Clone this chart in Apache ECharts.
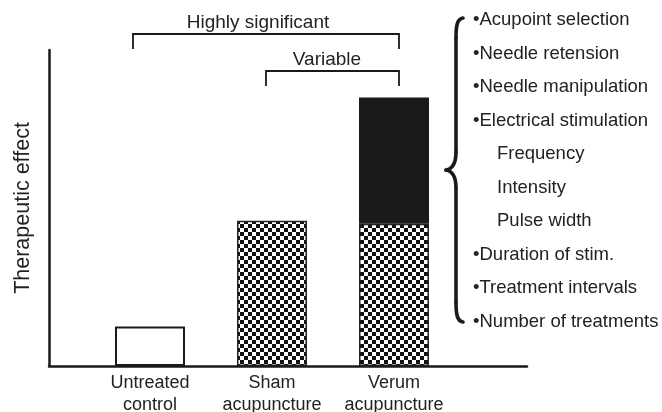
<!DOCTYPE html>
<html>
<head>
<meta charset="utf-8">
<script src="https://cdn.jsdelivr.net/npm/echarts@6/dist/echarts.min.js"></script>
<style>html,body{margin:0;padding:0;background:#fff;}#c{width:662px;height:412px;}</style>
</head>
<body>
<div id="c"></div>
<script>
const categories = ['Untreated\ncontrol', 'Sham\nacupuncture', 'Verum\nacupuncture'];
const baseEffect = [12.5, 46, 45];
const specificEffect = [null, null, 40];
const yAxisName = 'Therapeutic effect';
const bracketLabels = ['Highly significant', 'Variable'];
const factorItems = ['•Acupoint selection', '•Needle retension', '•Needle manipulation', '•Electrical stimulation', 'Frequency', 'Intensity', 'Pulse width', '•Duration of stim.', '•Treatment intervals', '•Number of treatments'];
const subItem = [false, false, false, false, true, true, true, false, false, false];

const FONT = 'Liberation Sans, Arial, Helvetica, sans-serif';
const INK = '#1a1a1a';

// checker pattern
const pat = document.createElement('canvas');
pat.width = 8; pat.height = 8;
const pc = pat.getContext('2d');
pc.fillStyle = '#fff'; pc.fillRect(0, 0, 8, 8);
pc.fillStyle = '#111';
pc.fillRect(0, 0, 4, 4); pc.fillRect(4, 4, 4, 4);

const chart = echarts.init(document.getElementById('c'), null, {renderer: 'canvas'});

const baseData = baseEffect.map((v, i) => i === 0
  ? {value: v, itemStyle: {color: '#fff', borderColor: INK, borderWidth: 2}}
  : {value: v});

const graphics = [];
// brackets
graphics.push({type: 'polyline', shape: {points: [[133, 49], [133, 34], [399, 34], [399, 49]]}, style: {stroke: INK, lineWidth: 1.8, fill: null}});
graphics.push({type: 'polyline', shape: {points: [[266, 86], [266, 71], [399, 71], [399, 86]]}, style: {stroke: INK, lineWidth: 1.8, fill: null}});
graphics.push({type: 'text', x: 258, y: 23, style: {text: bracketLabels[0], font: '19px ' + FONT, fill: '#222', textAlign: 'center', textVerticalAlign: 'middle'}});
graphics.push({type: 'text', x: 327, y: 60, style: {text: bracketLabels[1], font: '19px ' + FONT, fill: '#222', textAlign: 'center', textVerticalAlign: 'middle'}});
// curly brace
const braceStyle = {stroke: INK, lineWidth: 3.6, fill: null, lineCap: 'round'};
graphics.push({type: 'bezierCurve', shape: {x1: 463, y1: 18, cpx1: 457, cpy1: 19, cpx2: 456, cpy2: 26, x2: 456, y2: 38}, style: braceStyle});
graphics.push({type: 'line', shape: {x1: 456, y1: 38, x2: 456, y2: 152}, style: braceStyle});
graphics.push({type: 'bezierCurve', shape: {x1: 456, y1: 152, cpx1: 456, cpy1: 164, cpx2: 452, cpy2: 169, x2: 446, y2: 170}, style: braceStyle});
graphics.push({type: 'bezierCurve', shape: {x1: 446, y1: 170, cpx1: 452, cpy1: 171, cpx2: 456, cpy2: 176, x2: 456, y2: 188}, style: braceStyle});
graphics.push({type: 'line', shape: {x1: 456, y1: 188, x2: 456, y2: 302}, style: braceStyle});
graphics.push({type: 'bezierCurve', shape: {x1: 456, y1: 302, cpx1: 456, cpy1: 314, cpx2: 457, cpy2: 321, x2: 463, y2: 322}, style: braceStyle});
// factor list
factorItems.forEach((t, i) => {
  graphics.push({type: 'text', x: subItem[i] ? 497 : 473, y: 20 + i * 33.5,
    style: {text: t, font: '18.5px ' + FONT, fill: '#222', textAlign: 'left', textVerticalAlign: 'middle'}});
});

chart.setOption({
  animation: false,
  backgroundColor: '#fff',
  grid: [
    {left: 89, width: 366, top: 50, bottom: 46, outerBoundsMode: 'none', containLabel: false},
    {left: 49, right: 135, top: 50, bottom: 46, outerBoundsMode: 'none', containLabel: false}
  ],
  xAxis: [
    {type: 'category', gridIndex: 0, data: categories,
     axisLine: {show: false}, axisTick: {show: false},
     axisLabel: {interval: 0, hideOverlap: false, fontSize: 18, fontFamily: FONT, color: '#222', lineHeight: 22, margin: 6}},
    {type: 'value', gridIndex: 1, axisLine: {show: true, lineStyle: {color: INK, width: 2.5}},
     axisTick: {show: false}, axisLabel: {show: false}, splitLine: {show: false}}
  ],
  yAxis: [
    {type: 'value', gridIndex: 0, min: 0, max: 100, show: false},
    {type: 'value', gridIndex: 1, axisLine: {show: true, lineStyle: {color: INK, width: 2.5}},
     axisTick: {show: false}, axisLabel: {show: false}, splitLine: {show: false},
     name: yAxisName, nameLocation: 'middle', nameRotate: 90, nameGap: 15,
     nameTextStyle: {fontSize: 21.5, fontFamily: FONT, color: '#222'}}
  ],
  series: [
    {type: 'bar', xAxisIndex: 0, yAxisIndex: 0, stack: 'e', barWidth: 70, data: baseData,
     itemStyle: {color: {image: pat, repeat: 'repeat'}, borderColor: '#222', borderWidth: 1.5}},
    {type: 'bar', xAxisIndex: 0, yAxisIndex: 0, stack: 'e', barWidth: 70, data: specificEffect,
     itemStyle: {color: INK}}
  ],
  graphic: graphics
});
</script>
</body>
</html>
